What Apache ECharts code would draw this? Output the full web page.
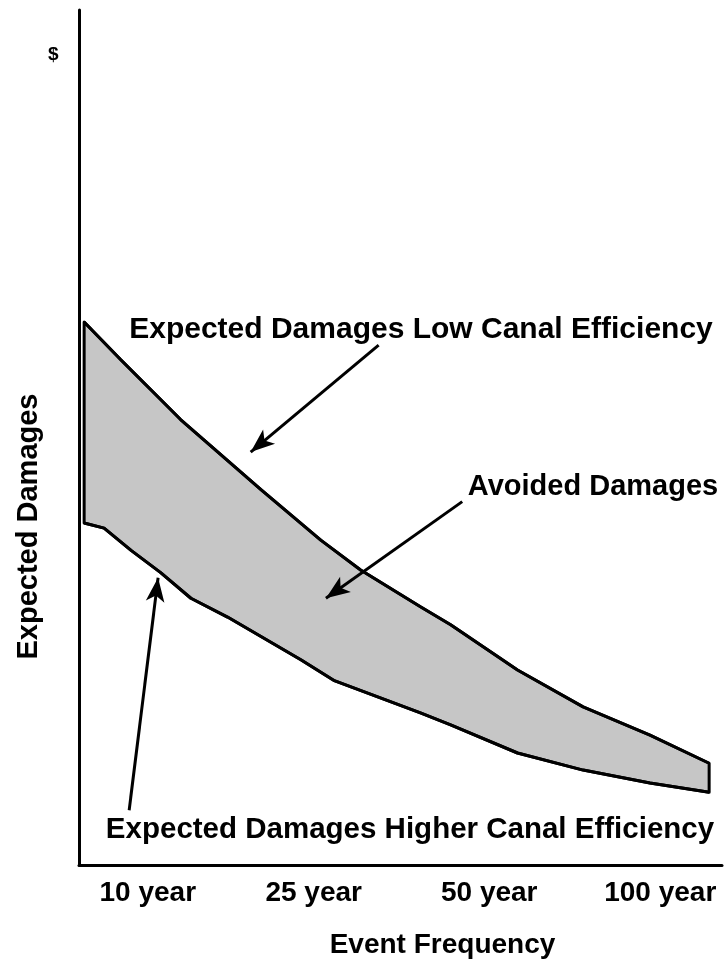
<!DOCTYPE html>
<html>
<head>
<meta charset="utf-8">
<script src="https://cdn.jsdelivr.net/npm/echarts@6/dist/echarts.min.js"></script>
<style>
html,body{margin:0;padding:0;background:#fff;}
#chart{width:725px;height:969px;}
</style>
</head>
<body>
<div id="chart"></div>
<script>
// Category tick labels and their positions along the frequency axis (0-100 scale)
const categories = ['10 year', '25 year', '50 year', '100 year'];
const categoryPos = [10.7, 36.5, 63.8, 90.4];

// Expected damages, low canal efficiency (upper curve)
const lowEffX = [0.8, 6.5, 15.8, 28.3, 37.6, 43.8, 53.1, 57.8, 68.2, 78.4, 88.8, 98.0];
const lowEffY = [63.5, 59.1, 52.1, 43.9, 38.0, 34.5, 30.2, 28.1, 22.8, 18.5, 15.2, 11.9];

// Expected damages, higher canal efficiency (lower curve)
const highEffX = [0.8, 3.9, 8.1, 12.7, 17.4, 23.1, 34.5, 39.6, 53.1, 57.8, 68.2, 78.4, 88.8, 98.0];
const highEffY = [40.0, 39.4, 36.8, 34.2, 31.2, 29.0, 24.0, 21.6, 17.8, 16.4, 13.1, 11.1, 9.6, 8.5];

// Annotation arrows: [fromX, fromY, toX, toY]
const arrowLow = [46.6, 60.8, 26.7, 48.3];
const arrowAvoided = [59.6, 42.5, 38.4, 31.2];
const arrowHigh = [7.8, 6.4, 12.3, 33.6];

const FONT = '"Liberation Sans", Arial, sans-serif';

const lowData = lowEffX.map((x, i) => [x, lowEffY[i]]);
const highData = highEffX.map((x, i) => [x, highEffY[i]]);

function arrow(a) {
  return [{ coord: [a[0], a[1]] }, { coord: [a[2], a[3]] }];
}

const chart = echarts.init(document.getElementById('chart'), null, { renderer: 'canvas' });
chart.setOption({
  backgroundColor: '#ffffff',
  animation: false,
  grid: { left: 79, right: 3, top: 10, bottom: 104, containLabel: false },
  xAxis: {
    type: 'value', min: 0, max: 100,
    name: 'Event Frequency', nameLocation: 'middle', nameGap: 66,
    nameTextStyle: { fontFamily: FONT, fontWeight: 'bold', fontSize: 28, color: '#000', padding: [0, 0, 0, 84] },
    axisLine: { show: true, lineStyle: { color: '#000', width: 3 } },
    axisTick: { show: false },
    splitLine: { show: false },
    axisLabel: {
      customValues: categoryPos,
      formatter: function (v) {
        const i = categoryPos.indexOf(v);
        return i >= 0 ? categories[i] : '';
      },
      margin: 14,
      fontFamily: FONT, fontWeight: 'bold', fontSize: 28, color: '#000'
    }
  },
  yAxis: {
    type: 'value', min: 0, max: 100,
    name: 'Expected Damages', nameLocation: 'middle', nameGap: 36, nameRotate: 90,
    nameTextStyle: { fontFamily: FONT, fontWeight: 'bold', fontSize: 29, color: '#000', padding: [0, 178, 0, 0] },
    axisLine: { show: true, lineStyle: { color: '#000', width: 3 } },
    axisTick: { show: false },
    axisLabel: { show: false },
    splitLine: { show: false }
  },
  series: [
    {
      type: 'custom',
      name: 'Avoided Damages',
      coordinateSystem: 'cartesian2d',
      silent: true,
      data: [[0, 0]],
      renderItem: function (params, api) {
        const pts = [];
        for (let i = 0; i < lowData.length; i++) pts.push(api.coord(lowData[i]));
        for (let i = highData.length - 1; i >= 0; i--) pts.push(api.coord(highData[i]));
        return {
          type: 'polygon',
          shape: { points: pts },
          style: { fill: '#c6c6c6', stroke: '#000', lineWidth: 3, lineJoin: 'round' }
        };
      },
      z: 1
    },
    {
      type: 'line',
      name: 'Expected Damages Low Canal Efficiency',
      data: lowData,
      symbol: 'none',
      silent: true,
      lineStyle: { color: '#000', width: 3 },
      z: 2,
      markLine: {
        silent: true,
        symbol: ['none', 'arrow'],
        symbolSize: [14, 24],
        label: { show: false },
        lineStyle: { color: '#000', width: 3, type: 'solid' },
        data: [arrow(arrowLow), arrow(arrowAvoided), arrow(arrowHigh)]
      }
    },
    {
      type: 'line',
      name: 'Expected Damages Higher Canal Efficiency',
      data: highData,
      symbol: 'none',
      silent: true,
      lineStyle: { color: '#000', width: 3 },
      z: 2
    }
  ],
  graphic: [
    { type: 'text', left: 48, top: 45, style: { text: '$', font: 'bold 19px ' + FONT, fill: '#000' } },
    { type: 'text', x: 421, y: 330, style: { text: 'Expected Damages Low Canal Efficiency', font: 'bold 30px ' + FONT, fill: '#000', align: 'center', verticalAlign: 'middle' } },
    { type: 'text', x: 593, y: 487, style: { text: 'Avoided Damages', font: 'bold 29px ' + FONT, fill: '#000', align: 'center', verticalAlign: 'middle' } },
    { type: 'text', x: 410, y: 830, style: { text: 'Expected Damages Higher Canal Efficiency', font: 'bold 29.5px ' + FONT, fill: '#000', align: 'center', verticalAlign: 'middle' } }
  ]
});
</script>
</body>
</html>
